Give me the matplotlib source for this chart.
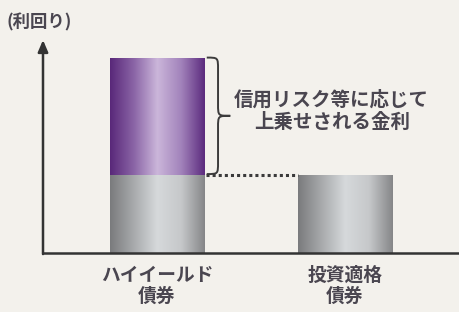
import numpy as np
import matplotlib
matplotlib.use("Agg")
import matplotlib.pyplot as plt
from matplotlib.path import Path
from matplotlib.patches import PathPatch
from matplotlib.colors import LinearSegmentedColormap

plt.rcParams['font.family'] = ['Noto Sans CJK JP', 'DejaVu Sans']

categories = ["ハイイールド\n債券", "投資適格\n債券"]
base_yield = [2.0, 2.0]
spread = [3.0, 0.0]
y_label = "(利回り)"
annotation = "信用リスク等に応じて\n上乗せされる金利"

BG = "#f3f1ec"
TXT = "#4a4650"

fig = plt.figure(figsize=(4.6, 3.12), dpi=100, facecolor=BG)
ax = fig.add_axes([43/460, (312-253)/312, 1-43/460, (253-40)/312])
ax.set_facecolor(BG)
ax.set_xlim(-0.606, 1.612)
ax.set_ylim(0, 5.45)

x = np.arange(len(categories))
width = 0.5

gray_cmap = LinearSegmentedColormap.from_list("g", ["#7a7b7d", "#a8aaac", "#d6d9db", "#c6c8ca", "#858688"])
purple_cmap = LinearSegmentedColormap.from_list("p", ["#592879", "#8a64a6", "#cbb6da", "#a283bb", "#5c2b7e"])
grad = np.linspace(0, 1, 256).reshape(1, -1)

def grad_bar(xc, bottom, height, cmap):
    if height <= 0:
        return
    bars = ax.bar(xc, height, width, bottom=bottom, color="none", edgecolor="none")
    patch = bars[0]
    im = ax.imshow(grad, cmap=cmap, aspect="auto",
                   extent=[xc - width/2, xc + width/2, bottom, bottom + height],
                   zorder=2)
    im.set_clip_path(patch)

for xi, b, s in zip(x, base_yield, spread):
    grad_bar(xi, 0, b, gray_cmap)
    grad_bar(xi, b, s, purple_cmap)

ax.set_xlim(-0.606, 1.612)
ax.set_ylim(0, 5.45)

# dotted line
ax.plot([x[0] + width/2 + 0.01, x[1] - width/2], [base_yield[0], base_yield[0]],
        linestyle=(0, (1, 1)), color="#3a3a3a", lw=2.2, zorder=3)

# brace
x0 = x[0] + width/2 + 0.015
xm = x0 + 0.06
xt = x0 + 0.125
y0 = base_yield[0] + 0.02
y1 = base_yield[0] + spread[0]
ym = (y0 + y1) / 2
r = 0.3
verts = [(x0, y1), (xm, y1), (xm, y1), (xm, y1 - r),
         (xm, ym + r),
         (xm, ym), (xm, ym), (xt, ym),
         (xm, ym), (xm, ym), (xm, ym - r),
         (xm, y0 + r),
         (xm, y0), (xm, y0), (x0, y0)]
codes = [Path.MOVETO, Path.CURVE4, Path.CURVE4, Path.CURVE4,
         Path.LINETO,
         Path.CURVE4, Path.CURVE4, Path.CURVE4,
         Path.CURVE4, Path.CURVE4, Path.CURVE4,
         Path.LINETO,
         Path.CURVE4, Path.CURVE4, Path.CURVE4]
ax.add_patch(PathPatch(Path(verts, codes), facecolor="none", edgecolor="#3c3c3c", lw=1.4, zorder=3))

ax.text(0.93, ym + 0.12, annotation, ha="center", va="center", fontsize=14,
        color=TXT, linespacing=1.25, fontweight="bold")

# axes
for s in ["top", "right", "left"]:
    ax.spines[s].set_visible(False)
ax.spines["bottom"].set_color("#333333")
ax.spines["bottom"].set_linewidth(1.8)
ax.annotate("", xy=(0, 1.0), xytext=(0, -0.005), xycoords="axes fraction",
            arrowprops=dict(arrowstyle="-|>,head_length=0.7,head_width=0.3",
                            color="#333333", lw=1.8, shrinkA=0, shrinkB=0))
ax.set_yticks([])
ax.set_xticks(x)
ax.set_xticklabels(categories, fontsize=13.5, color=TXT, linespacing=1.15, fontweight="bold")
ax.tick_params(axis="x", length=0, pad=9)

fig.text(7/460, 1 - 22/312, y_label, ha="left", va="center", fontsize=12.5,
         color=TXT, fontweight="bold")

fig.savefig("out.png", dpi=100, facecolor=BG)
